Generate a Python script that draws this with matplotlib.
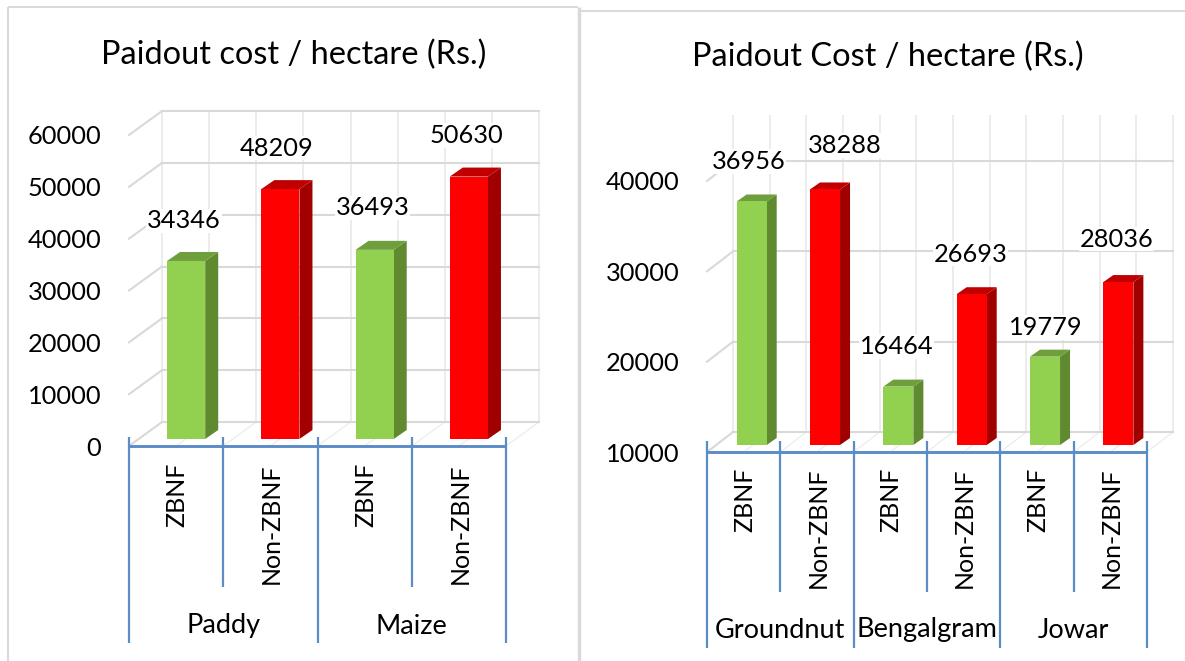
import matplotlib
matplotlib.use("Agg")
import matplotlib.pyplot as plt
from matplotlib.lines import Line2D
from matplotlib.patches import Polygon
from matplotlib.transforms import Affine2D

plt.rcParams['font.family'] = ['Lato', 'DejaVu Sans']

# data
left_title = "Paidout cost / hectare (Rs.)"
left_crops = ["Paddy", "Maize"]
left_farming = ["ZBNF", "Non-ZBNF", "ZBNF", "Non-ZBNF"]
left_values = [34346, 48209, 36493, 50630]
left_yticks = [0, 10000, 20000, 30000, 40000, 50000, 60000]

right_title = "Paidout Cost / hectare (Rs.)"
right_crops = ["Groundnut", "Bengalgram", "Jowar"]
right_farming = ["ZBNF", "Non-ZBNF", "ZBNF", "Non-ZBNF", "ZBNF", "Non-ZBNF"]
right_values = [36956, 38288, 16464, 26693, 19779, 28036]
right_yticks = [10000, 20000, 30000, 40000]

W, H = 1185, 661
GRID = "#d9d9d9"
GRID_V = "#ececec"
BLUE = "#5b8cc6"
INK = "#000000"
FACES = {"green": ("#92d050", "#5f8a30", "#6f9f3c"),
         "red": ("#ff0000", "#a00000", "#c00000")}

fig = plt.figure(figsize=(W / 100, H / 100), dpi=100, facecolor="white")
# picture pixels, origin at the top left
pix = Affine2D().scale(1, -1).translate(0, H)


def pline(x0, y0, x1, y1, color=BLUE, lw=1.6):
    fig.add_artist(Line2D([x0, x1], [y0, y1], color=color, lw=lw,
                          transform=pix, solid_capstyle="butt"))


def ptext(x, y, s, size, rotation=0, ha="center", va="center"):
    fig.text(x, y, s, fontsize=size, rotation=rotation, ha=ha, va=va,
             transform=pix, color=INK)


def draw_chart(x0, x1, y_base, y_top, yticks, values, farming, crops, wall,
               wall_d, bar_d, bar_depth, bar_w, label_up, label_dx, tick_top,
               short_end, long_end, cat_top, crop_y):
    ax = fig.add_axes([x0 / W, 1 - y_base / H, (x1 - x0) / W, (y_base - y_top) / H])
    n = len(values)
    ymin, ymax = yticks[0], yticks[-1]
    ax.set_xlim(0, n)
    ax.set_ylim(ymin, ymax)
    ax.patch.set_visible(False)
    for s in ax.spines.values():
        s.set_visible(False)
    ax.set_xticks([])
    ax.set_yticks(yticks)
    ax.set_yticklabels([str(t) for t in yticks], fontsize=18.3, color=INK)
    ax.tick_params(axis="y", length=0, pad=20)

    # pixel sizes to data units
    px = (x1 - x0) / n
    py = (y_base - y_top) / (ymax - ymin)
    back = ax.transData + Affine2D().translate(wall_d[0], wall_d[1])
    mid = ax.transData + Affine2D().translate(bar_d[0], bar_d[1])

    # back wall and side wall
    for i in range(2 * n + 1):
        ax.plot([i / 2, i / 2], [ymin, wall], color=GRID_V, lw=1.4,
                transform=back, clip_on=False, zorder=1)
        ax.plot([i / 2, i / 2 + wall_d[0] / px], [ymin, ymin + wall_d[1] / py],
                color="#eeeeee", lw=1, clip_on=False, zorder=1)
    for t in yticks:
        ax.plot([0, n], [t, t], color=GRID, lw=1.5, transform=back,
                clip_on=False, zorder=1.5)
        ax.plot([0, wall_d[0] / px], [t, t + wall_d[1] / py], color=GRID, lw=1.5,
                clip_on=False, zorder=1.5)

    # bars, green and red in turn
    ddx = bar_depth[0] / px
    ddy = bar_depth[1] / py
    for i, v in enumerate(values):
        front, side, top = FACES["green"] if i % 2 == 0 else FACES["red"]
        left = i + 0.5 - bar_w / 2
        right = left + bar_w
        ax.add_patch(Polygon([(right, ymin), (right + ddx, ymin + ddy),
                              (right + ddx, v + ddy), (right, v)],
                             fc=side, ec="none", transform=mid, clip_on=False, zorder=3))
        ax.add_patch(Polygon([(left, v), (right, v), (right + ddx, v + ddy),
                              (left + ddx, v + ddy)],
                             fc=top, ec="none", transform=mid, clip_on=False, zorder=3))
        ax.bar(i + 0.5, v - ymin, bottom=ymin, width=bar_w, color=front,
               transform=mid, clip_on=False, zorder=3)
        ax.annotate(str(v), (i + 0.5, v), xycoords=mid,
                    xytext=(label_dx[i] * 0.72, label_up[i] * 0.72), textcoords="offset points",
                    ha="center", va="center", fontsize=18.3, color=INK, zorder=5,
                    bbox=dict(fc="white", ec="none", pad=0.5))
        ptext(x0 + (i + 0.5) * px + 1, cat_top, farming[i], 18, rotation=90, va="top")

    ax.set_xlim(0, n)
    ax.set_ylim(ymin, ymax)

    # category axis drawn as multi level
    pline(x0, y_base, x1, y_base, lw=2.1)
    for i in range(n + 1):
        end = long_end if i % 2 == 0 else short_end
        pline(x0 + i * px, tick_top, x0 + i * px, end)
    for j, crop in enumerate(crops):
        ptext(x0 + (2 * j + 1) * px, crop_y, crop, 19.5)


# panel borders
pline(8, 7, 578, 7, GRID, 1.4)
pline(8, 7, 8, H, GRID, 1.5)
pline(579, 7, 579, H, GRID, 2.5)
pline(580, 10.5, W, 10.5, GRID, 1.4)

ptext(293.5, 55, left_title, 23.4)
ptext(887.5, 57, right_title, 23.4)

draw_chart(129, 506, 446, 135, left_yticks, left_values, left_farming, left_crops,
           60000, (33, 24), (10, 7), (13, 9), 0.405, [40, 41, 42, 41],
           [-2, -4, -2, -2], 437, 587, 643, 463, 626)
draw_chart(707, 1147, 452, 181, right_yticks, right_values, right_farming, right_crops,
           45000, (26, 20), (8, 7), (10, 7), 0.41, [40, 44, 40, 40, 29, 43],
           [-3, 20, -2, -1, 1, -2], 441, 592, 648, 468, 630)

fig.savefig("out.png", dpi=100)
